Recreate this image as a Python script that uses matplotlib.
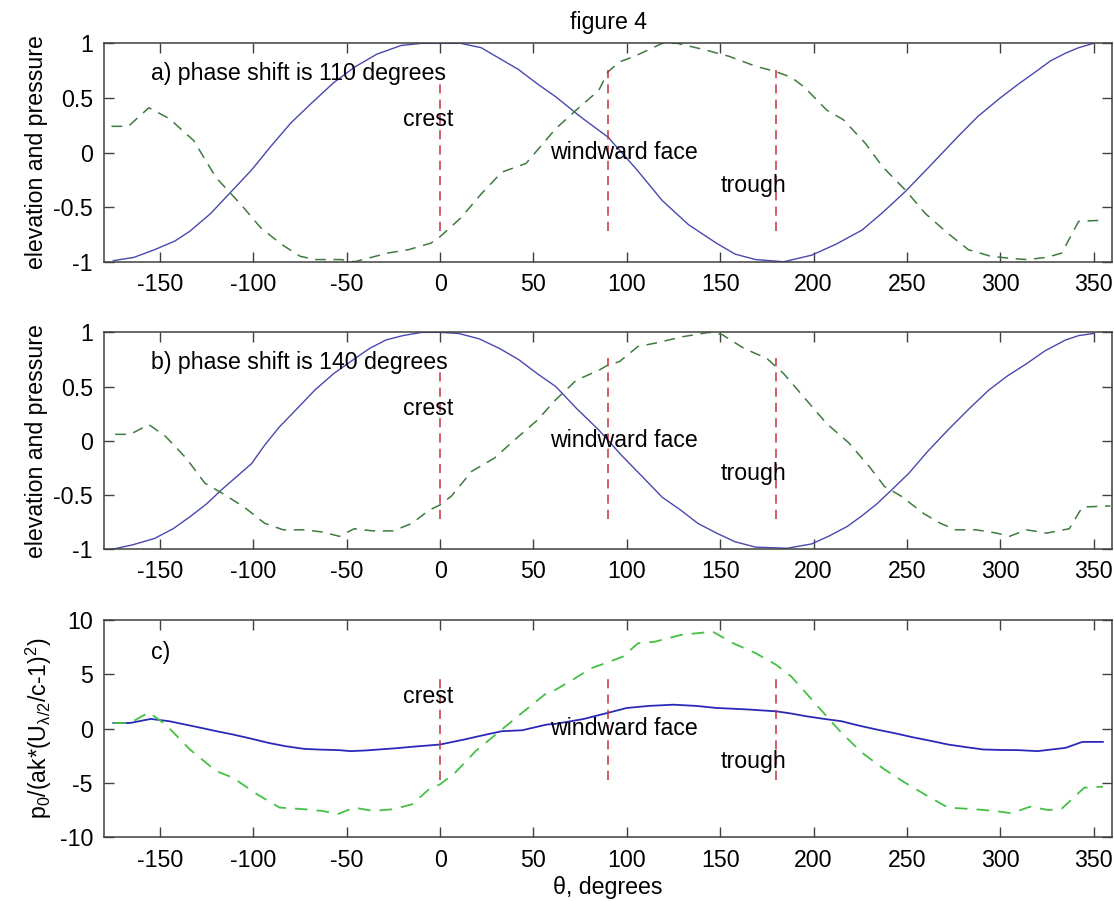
import matplotlib
matplotlib.use('agg')
import matplotlib.pyplot as plt

plt.rcParams['font.family'] = ['Liberation Sans', 'DejaVu Sans']
plt.rcParams['axes.unicode_minus'] = False
plt.rcParams['mathtext.fontset'] = 'custom'
plt.rcParams['mathtext.rm'] = 'Liberation Sans'
plt.rcParams['mathtext.it'] = 'Liberation Sans'

# panel a) phase shift 110
th_a_elev = [-175, -164, -153, -142, -134, -123, -112, -101, -91, -80, -69, -57, -46, -34, -21,
             -10, 0, 11, 22, 32, 42, 52, 62, 75, 90, 105, 119, 133, 148, 158, 169, 184, 199,
             212, 226, 237, 249, 262, 277, 288, 300, 310, 319, 327, 335, 342, 350]
elev_a = [-0.99, -0.96, -0.89, -0.81, -0.72, -0.56, -0.36, -0.16, 0.05, 0.27, 0.45, 0.64, 0.78,
          0.90, 0.98, 1.0, 1.0, 1.0, 0.96, 0.86, 0.76, 0.63, 0.51, 0.33, 0.14, -0.15, -0.44,
          -0.66, -0.83, -0.93, -0.98, -1.0, -0.94, -0.84, -0.71, -0.55, -0.36, -0.13, 0.14,
          0.33, 0.50, 0.63, 0.74, 0.84, 0.91, 0.96, 1.0]
th_a_pres = [-176, -167, -156, -145, -132, -120, -107, -96, -85, -75, -67, -53, -46, -39, -28,
             -17, -5, 0, 11, 22, 33, 46, 55, 62, 73, 85, 90, 96, 104, 119, 127, 142, 155, 169,
             180, 188, 195, 207, 216, 228, 237, 249, 260, 272, 283, 295, 306, 314, 325, 333,
             342, 355]
pres_a = [0.24, 0.24, 0.41, 0.31, 0.11, -0.23, -0.47, -0.69, -0.84, -0.95, -0.98, -0.98, -1.0,
          -0.97, -0.92, -0.89, -0.83, -0.77, -0.60, -0.38, -0.18, -0.10, 0.08, 0.22, 0.39,
          0.57, 0.74, 0.83, 0.88, 1.0, 1.0, 0.94, 0.88, 0.79, 0.74, 0.69, 0.60, 0.39, 0.30,
          0.08, -0.13, -0.34, -0.56, -0.74, -0.89, -0.95, -0.97, -0.98, -0.96, -0.92, -0.63,
          -0.62]

# panel b) phase shift 140
th_b_elev = [-176, -165, -153, -143, -134, -125, -117, -109, -101, -94, -86, -77, -67, -57, -48,
             -38, -29, -20, -10, 0, 10, 21, 32, 42, 52, 62, 73, 85, 97, 110, 119, 129, 138,
             148, 158, 169, 186, 199, 208, 218, 226, 234, 242, 251, 261, 272, 283, 294, 304,
             314, 324, 335, 342, 350]
elev_b = [-1.0, -0.96, -0.90, -0.81, -0.70, -0.58, -0.45, -0.33, -0.21, -0.04, 0.13, 0.29,
          0.47, 0.62, 0.73, 0.85, 0.93, 0.97, 1.0, 1.0, 0.99, 0.94, 0.85, 0.75, 0.62, 0.50,
          0.30, 0.10, -0.13, -0.36, -0.52, -0.64, -0.76, -0.85, -0.93, -0.98, -0.99, -0.95,
          -0.88, -0.79, -0.69, -0.58, -0.45, -0.30, -0.10, 0.10, 0.29, 0.47, 0.60, 0.71, 0.83,
          0.93, 0.97, 0.99]
th_b_pres = [-174, -166, -156, -147, -136, -126, -117, -105, -94, -84, -73, -63, -54, -46, -36,
             -25, -15, -6, 0, 6, 17, 29, 40, 52, 62, 73, 85, 90, 96, 106, 115, 130, 144, 151,
             163, 175, 184, 196, 207, 219, 230, 238, 247, 259, 268, 276, 287, 298, 305, 314,
             325, 337, 344, 359]
pres_b = [0.06, 0.06, 0.15, 0.04, -0.16, -0.39, -0.48, -0.61, -0.76, -0.82, -0.82, -0.84,
          -0.88, -0.81, -0.83, -0.83, -0.76, -0.64, -0.59, -0.51, -0.28, -0.16, 0.01, 0.19,
          0.38, 0.56, 0.65, 0.70, 0.73, 0.87, 0.90, 0.96, 1.0, 0.98, 0.85, 0.76, 0.62, 0.38,
          0.16, -0.02, -0.24, -0.42, -0.51, -0.67, -0.76, -0.82, -0.82, -0.85, -0.88, -0.82,
          -0.85, -0.81, -0.61, -0.60]

# panel c) normalised pressure
th_c_blue = [-175, -166, -155, -145, -137, -128, -120, -111, -101, -92, -83, -73, -64, -54, -48,
             -40, -33, -24, -15, -7, 0, 13, 23, 33, 44, 57, 62, 77, 91, 100, 112, 125, 137,
             148, 164, 180, 188, 196, 205, 215, 224, 234, 244, 253, 263, 272, 282, 291, 300,
             310, 320, 335, 344, 355]
p_c_blue = [0.53, 0.53, 0.9, 0.69, 0.40, 0.08, -0.22, -0.53, -0.92, -1.3, -1.60, -1.85, -1.92,
            -1.97, -2.06, -2.0, -1.91, -1.80, -1.66, -1.55, -1.45, -0.99, -0.60, -0.23, -0.14,
            0.38, 0.45, 0.9, 1.51, 1.91, 2.10, 2.21, 2.10, 1.91, 1.78, 1.60, 1.40, 1.15, 0.92,
            0.69, 0.30, -0.08, -0.43, -0.78, -1.12, -1.45, -1.70, -1.91, -1.95, -1.97, -2.06,
            -1.76, -1.21, -1.21]
th_c_green = [-175, -166, -156, -147, -134, -120, -111, -98, -86, -73, -63, -55, -46, -36, -25,
              -15, -6, 0, 8, 19, 33, 46, 57, 62, 71, 81, 91, 98, 106, 115, 129, 146, 157, 169,
              180, 188, 196, 207, 215, 226, 238, 249, 261, 272, 286, 297, 306, 316, 326, 333,
              345, 355]
p_c_green = [0.53, 0.53, 1.51, 0.38, -1.91, -3.89, -4.5, -6.03, -7.25, -7.4, -7.56, -7.86,
             -7.25, -7.56, -7.4, -6.95, -5.57, -5.11, -4.05, -2.06, -0.08, 1.76, 3.28, 3.6,
             4.5, 5.57, 6.18, 6.64, 7.86, 8.0, 8.63, 8.93, 7.86, 6.95, 5.88, 4.81, 3.28, 1.15,
             -0.38, -2.21, -3.74, -4.96, -6.18, -7.25, -7.4, -7.56, -7.77, -7.17, -7.48, -7.35,
             -5.42, -5.33]

marker_x = [0, 90, 180]
marker_top_ab = [0.65, 0.76, 0.76]
marker_names = ['crest', 'windward face', 'trough']
marker_text_x = [-20, 59, 150]

xticks = [-150, -100, -50, 0, 50, 100, 150, 200, 250, 300, 350]

fig = plt.figure(figsize=(11.14, 9.01), dpi=100)
ax_a = fig.add_axes([0.0934, 0.7095, 0.905, 0.2424])
ax_b = fig.add_axes([0.0934, 0.3903, 0.905, 0.2408])
ax_c = fig.add_axes([0.0934, 0.0705, 0.905, 0.2414])

fs = 16.7
red = '#c8303c'


def style(ax, yticks, ylabels):
    ax.set_xlim(-180, 360)
    ax.set_xticks(xticks)
    ax.set_yticks(yticks)
    ax.set_yticklabels(ylabels)
    ax.tick_params(direction='in', length=7, width=1, color='#404040', top=True, right=True,
                   labelsize=fs, pad=8)
    for s in ax.spines.values():
        s.set_color('#404040')
        s.set_linewidth(1.1)


for ax, th_e, el, th_p, pr, lab in [
        (ax_a, th_a_elev, elev_a, th_a_pres, pres_a, 'a) phase shift is 110 degrees'),
        (ax_b, th_b_elev, elev_b, th_b_pres, pres_b, 'b) phase shift is 140 degrees')]:
    ax.plot(th_e, el, color='#4848b0', lw=1.0)
    ax.plot(th_p, pr, color='#3f7a3f', lw=1.1, dashes=(7, 5))
    for xm, top in zip(marker_x, marker_top_ab):
        ax.plot([xm, xm], [-0.72, top], color=red, lw=1.1, dashes=(6, 4))
    ax.text(-155, 0.72, lab, fontsize=fs, va='center')
    for tx, ty, nm in zip(marker_text_x, [0.30, 0.0, -0.30], marker_names):
        ax.text(tx, ty, nm, fontsize=fs, va='center')
    ax.set_ylim(-1, 1)
    style(ax, [-1, -0.5, 0, 0.5, 1], ['-1', '-0.5', '0', '0.5', '1'])
    ax.set_ylabel('elevation and pressure', fontsize=fs, labelpad=4)

ax_c.plot(th_c_blue, p_c_blue, color='#2a2ab8', lw=1.3)
ax_c.plot(th_c_green, p_c_green, color='#45c045', lw=1.3, dashes=(7, 5))
for xm in marker_x:
    ax_c.plot([xm, xm], [-4.75, 4.75], color=red, lw=1.1, dashes=(6, 4))
ax_c.text(-155, 7.0, 'c)', fontsize=fs, va='center')
for tx, ty, nm in zip(marker_text_x, [3.0, 0.0, -3.0], marker_names):
    ax_c.text(tx, ty, nm, fontsize=fs, va='center')
ax_c.set_ylim(-10, 10)
style(ax_c, [-10, -5, 0, 5, 10], ['-10', '-5', '0', '5', '10'])
ax_c.set_ylabel(r'p$_0$/(ak*(U$_{\lambda/2}$/c-1)$^2$)', fontsize=fs, labelpad=4)
ax_c.set_xlabel('θ, degrees', fontsize=fs, labelpad=3)

ax_a.set_title('figure 4', fontsize=fs, pad=10)

fig.savefig('out.png', dpi=100)
